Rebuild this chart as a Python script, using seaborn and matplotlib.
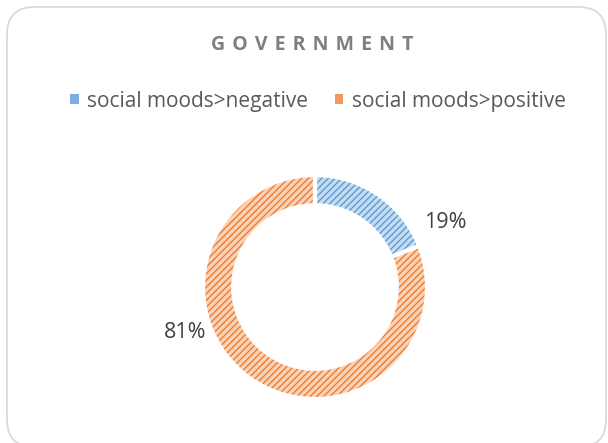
import matplotlib
matplotlib.use("Agg")
import matplotlib.pyplot as plt
from matplotlib.patches import FancyBboxPatch, Patch
import seaborn as sns

categories = ["social moods>negative", "social moods>positive"]
shares = [19, 81]
title = "GOVERNMENT"

sns.set_theme(style="white")
plt.rcParams["font.family"] = ["Open Sans", "DejaVu Sans"]
plt.rcParams["hatch.linewidth"] = 1.0

line_colors = ["#5B9BD5", "#ED7D31"]
fill_colors = ["#C5DCF1", "#F9D2B7"]
legend_colors = ["#7DAFE0", "#F0995C"]

W, H = 608, 443
fig = plt.figure(figsize=(W / 100, H / 100), dpi=100)
fig.patch.set_facecolor("white")

# rounded frame around the chart area
frame = FancyBboxPatch((7 / W, -4 / H), 599 / W, 440 / H,
                       boxstyle="round,pad=0,rounding_size=0.045",
                       transform=fig.transFigure, facecolor="white",
                       edgecolor="#D9D9D9", linewidth=1.3, mutation_aspect=W / H,
                       zorder=-10)
fig.patches.append(frame)

# spaced-out title
fig.text(312 / W, 1 - 45 / H, " \u200a".join(title), ha="center", va="center",
         fontsize=14, fontweight="bold", color="#7F7F7F")

# doughnut axes
cx, cy, r = 315, 287, 112
half = 150
ax = fig.add_axes([(cx - half) / W, (H - cy - half) / H, 2 * half / W, 2 * half / H])

ring = dict(width=0.27)
wedges, _ = ax.pie(shares, startangle=90, counterclock=False, radius=1,
                   colors=fill_colors, wedgeprops=dict(ring, linewidth=0))
for w, c in zip(wedges, line_colors):
    w.set_hatch("/////")
    w.set_edgecolor(c)
    w.set_linewidth(0)
# white separators between the slices
ax.pie(shares, startangle=90, counterclock=False, radius=1,
       colors=["none", "none"],
       wedgeprops=dict(ring, edgecolor="white", linewidth=3))

ax.set_xlim(-half / r, half / r)
ax.set_ylim(-half / r, half / r)
ax.set_aspect("equal")
ax.axis("off")

label_pos = [(130 / r, 64 / r), (-130 / r, -46 / r)]
for v, (lx, ly) in zip(shares, label_pos):
    ax.text(lx, ly, f"{v}%", ha="center", va="center", fontsize=15.5, color="#404040")

handles = [Patch(facecolor=c, linewidth=0) for c in legend_colors]
fig.legend(handles, categories, loc="center", ncol=2,
           bbox_to_anchor=(318 / W, 1 - 101 / H), frameon=False,
           fontsize=15, labelcolor="#595959", handlelength=0.4, handleheight=0.4,
           handletextpad=0.4, columnspacing=1.3)

fig.savefig("out.png", dpi=100)
